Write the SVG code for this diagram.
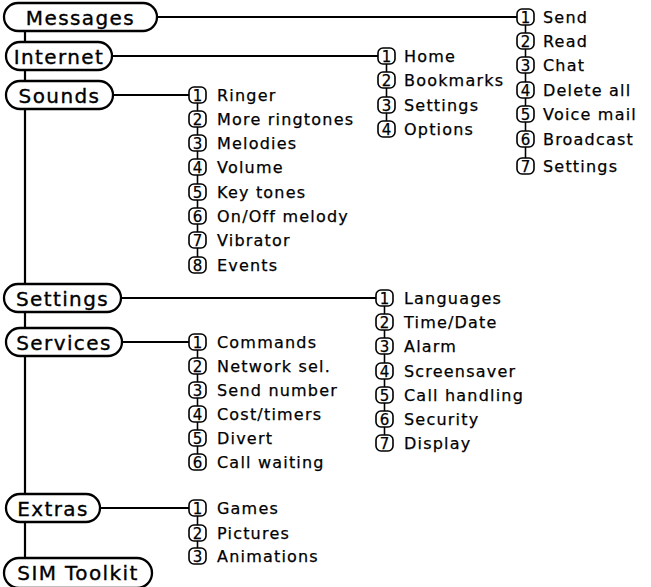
<svg xmlns="http://www.w3.org/2000/svg" width="651" height="587" viewBox="0 0 651 587">
<style>
.main rect{fill:#fff;stroke:#000;stroke-width:2.3}
.main text{font-family:"DejaVu Sans",sans-serif;font-size:20px;letter-spacing:1.4px;text-anchor:middle;fill:#000;stroke:#000;stroke-width:0.35}
.num rect{fill:#fff;stroke:#000;stroke-width:1.6}
.num text{font-family:"DejaVu Sans",sans-serif;font-size:15px;text-anchor:middle;fill:#000;stroke:#000;stroke-width:0.25}
.num .lbl{font-size:16px;letter-spacing:1.2px;text-anchor:start}
.conn line{stroke:#000;stroke-width:2.2}
.conn .s{stroke-width:1.6}
</style>
<rect width="651" height="587" fill="#fff"/>
<g class="conn" id="connectors">
<line x1="25" y1="31" x2="25" y2="560"/>
<line x1="157" y1="17" x2="517" y2="17"/>
<line x1="112" y1="56" x2="378" y2="56"/>
<line x1="113" y1="95" x2="189" y2="95"/>
<line x1="121" y1="298" x2="376" y2="298"/>
<line x1="122" y1="342" x2="189" y2="342"/>
<line x1="100" y1="508" x2="189" y2="508"/>
<line class="s" x1="525.5" y1="25" x2="525.5" y2="33"/>
<line class="s" x1="525.5" y1="49" x2="525.5" y2="57"/>
<line class="s" x1="525.5" y1="73" x2="525.5" y2="82"/>
<line class="s" x1="525.5" y1="98" x2="525.5" y2="106"/>
<line class="s" x1="525.5" y1="122" x2="525.5" y2="131"/>
<line class="s" x1="525.5" y1="147" x2="525.5" y2="158"/>
<line class="s" x1="386.5" y1="64" x2="386.5" y2="72"/>
<line class="s" x1="386.5" y1="88" x2="386.5" y2="97"/>
<line class="s" x1="386.5" y1="113" x2="386.5" y2="121"/>
<line class="s" x1="197.5" y1="103" x2="197.5" y2="111"/>
<line class="s" x1="197.5" y1="127" x2="197.5" y2="135"/>
<line class="s" x1="197.5" y1="151" x2="197.5" y2="159"/>
<line class="s" x1="197.5" y1="175" x2="197.5" y2="184"/>
<line class="s" x1="197.5" y1="200" x2="197.5" y2="208"/>
<line class="s" x1="197.5" y1="224" x2="197.5" y2="232"/>
<line class="s" x1="197.5" y1="248" x2="197.5" y2="257"/>
<line class="s" x1="384.5" y1="306" x2="384.5" y2="314"/>
<line class="s" x1="384.5" y1="330" x2="384.5" y2="338"/>
<line class="s" x1="384.5" y1="354" x2="384.5" y2="363"/>
<line class="s" x1="384.5" y1="379" x2="384.5" y2="387"/>
<line class="s" x1="384.5" y1="403" x2="384.5" y2="411"/>
<line class="s" x1="384.5" y1="427" x2="384.5" y2="435"/>
<line class="s" x1="197.5" y1="350" x2="197.5" y2="358"/>
<line class="s" x1="197.5" y1="374" x2="197.5" y2="382"/>
<line class="s" x1="197.5" y1="398" x2="197.5" y2="406"/>
<line class="s" x1="197.5" y1="422" x2="197.5" y2="430"/>
<line class="s" x1="197.5" y1="446" x2="197.5" y2="454"/>
<line class="s" x1="197.5" y1="516" x2="197.5" y2="525"/>
<line class="s" x1="197.5" y1="541" x2="197.5" y2="548"/>
</g>
<g class="main" id="messages"><rect x="4" y="3" width="153" height="28" rx="14"/><text x="80.5" y="24.5">Messages</text></g>
<g class="main" id="internet"><rect x="6" y="42" width="106" height="28" rx="14"/><text x="59" y="63.5">Internet</text></g>
<g class="main" id="sounds"><rect x="6" y="81" width="107" height="28" rx="14"/><text x="59.5" y="102.5">Sounds</text></g>
<g class="main" id="settings"><rect x="4" y="284" width="117" height="28" rx="14"/><text x="62.5" y="305.5">Settings</text></g>
<g class="main" id="services"><rect x="6" y="328" width="116" height="28" rx="14"/><text x="64" y="349.5">Services</text></g>
<g class="main" id="extras"><rect x="6" y="494" width="94" height="28" rx="14"/><text x="53" y="515.5">Extras</text></g>
<g class="main" id="sim-toolkit"><rect x="4" y="558" width="148" height="30" rx="15"/><text x="78" y="580">SIM Toolkit</text></g>

<g id="messages-items">
<g class="num" id="msg-1"><rect x="517" y="9" width="17" height="16" rx="5"/><text x="525.5" y="22.5">1</text><text class="lbl" x="543" y="23">Send</text></g>
<g class="num" id="msg-2"><rect x="517" y="33" width="17" height="16" rx="5"/><text x="525.5" y="46.5">2</text><text class="lbl" x="543" y="47">Read</text></g>
<g class="num" id="msg-3"><rect x="517" y="57" width="17" height="16" rx="5"/><text x="525.5" y="70.5">3</text><text class="lbl" x="543" y="71">Chat</text></g>
<g class="num" id="msg-4"><rect x="517" y="82" width="17" height="16" rx="5"/><text x="525.5" y="95.5">4</text><text class="lbl" x="543" y="96">Delete all</text></g>
<g class="num" id="msg-5"><rect x="517" y="106" width="17" height="16" rx="5"/><text x="525.5" y="119.5">5</text><text class="lbl" x="543" y="120">Voice mail</text></g>
<g class="num" id="msg-6"><rect x="517" y="131" width="17" height="16" rx="5"/><text x="525.5" y="144.5">6</text><text class="lbl" x="543" y="145">Broadcast</text></g>
<g class="num" id="msg-7"><rect x="517" y="158" width="17" height="16" rx="5"/><text x="525.5" y="171.5">7</text><text class="lbl" x="543" y="172">Settings</text></g>
</g>
<g id="internet-items">
<g class="num" id="int-1"><rect x="378" y="48" width="17" height="16" rx="5"/><text x="386.5" y="61.5">1</text><text class="lbl" x="404" y="62">Home</text></g>
<g class="num" id="int-2"><rect x="378" y="72" width="17" height="16" rx="5"/><text x="386.5" y="85.5">2</text><text class="lbl" x="404" y="86">Bookmarks</text></g>
<g class="num" id="int-3"><rect x="378" y="97" width="17" height="16" rx="5"/><text x="386.5" y="110.5">3</text><text class="lbl" x="404" y="111">Settings</text></g>
<g class="num" id="int-4"><rect x="378" y="121" width="17" height="16" rx="5"/><text x="386.5" y="134.5">4</text><text class="lbl" x="404" y="135">Options</text></g>
</g>
<g id="sounds-items">
<g class="num" id="snd-1"><rect x="189" y="87" width="17" height="16" rx="5"/><text x="197.5" y="100.5">1</text><text class="lbl" x="217" y="101">Ringer</text></g>
<g class="num" id="snd-2"><rect x="189" y="111" width="17" height="16" rx="5"/><text x="197.5" y="124.5">2</text><text class="lbl" x="217" y="125">More ringtones</text></g>
<g class="num" id="snd-3"><rect x="189" y="135" width="17" height="16" rx="5"/><text x="197.5" y="148.5">3</text><text class="lbl" x="217" y="149">Melodies</text></g>
<g class="num" id="snd-4"><rect x="189" y="159" width="17" height="16" rx="5"/><text x="197.5" y="172.5">4</text><text class="lbl" x="217" y="173">Volume</text></g>
<g class="num" id="snd-5"><rect x="189" y="184" width="17" height="16" rx="5"/><text x="197.5" y="197.5">5</text><text class="lbl" x="217" y="198">Key tones</text></g>
<g class="num" id="snd-6"><rect x="189" y="208" width="17" height="16" rx="5"/><text x="197.5" y="221.5">6</text><text class="lbl" x="217" y="222">On/Off melody</text></g>
<g class="num" id="snd-7"><rect x="189" y="232" width="17" height="16" rx="5"/><text x="197.5" y="245.5">7</text><text class="lbl" x="217" y="246">Vibrator</text></g>
<g class="num" id="snd-8"><rect x="189" y="257" width="17" height="16" rx="5"/><text x="197.5" y="270.5">8</text><text class="lbl" x="217" y="271">Events</text></g>
</g>
<g id="settings-items">
<g class="num" id="set-1"><rect x="376" y="290" width="17" height="16" rx="5"/><text x="384.5" y="303.5">1</text><text class="lbl" x="404" y="304">Languages</text></g>
<g class="num" id="set-2"><rect x="376" y="314" width="17" height="16" rx="5"/><text x="384.5" y="327.5">2</text><text class="lbl" x="404" y="328">Time/Date</text></g>
<g class="num" id="set-3"><rect x="376" y="338" width="17" height="16" rx="5"/><text x="384.5" y="351.5">3</text><text class="lbl" x="404" y="352">Alarm</text></g>
<g class="num" id="set-4"><rect x="376" y="363" width="17" height="16" rx="5"/><text x="384.5" y="376.5">4</text><text class="lbl" x="404" y="377">Screensaver</text></g>
<g class="num" id="set-5"><rect x="376" y="387" width="17" height="16" rx="5"/><text x="384.5" y="400.5">5</text><text class="lbl" x="404" y="401">Call handling</text></g>
<g class="num" id="set-6"><rect x="376" y="411" width="17" height="16" rx="5"/><text x="384.5" y="424.5">6</text><text class="lbl" x="404" y="425">Security</text></g>
<g class="num" id="set-7"><rect x="376" y="435" width="17" height="16" rx="5"/><text x="384.5" y="448.5">7</text><text class="lbl" x="404" y="449">Display</text></g>
</g>
<g id="services-items">
<g class="num" id="srv-1"><rect x="189" y="334" width="17" height="16" rx="5"/><text x="197.5" y="347.5">1</text><text class="lbl" x="217" y="348">Commands</text></g>
<g class="num" id="srv-2"><rect x="189" y="358" width="17" height="16" rx="5"/><text x="197.5" y="371.5">2</text><text class="lbl" x="217" y="372">Network sel.</text></g>
<g class="num" id="srv-3"><rect x="189" y="382" width="17" height="16" rx="5"/><text x="197.5" y="395.5">3</text><text class="lbl" x="217" y="396">Send number</text></g>
<g class="num" id="srv-4"><rect x="189" y="406" width="17" height="16" rx="5"/><text x="197.5" y="419.5">4</text><text class="lbl" x="217" y="420">Cost/timers</text></g>
<g class="num" id="srv-5"><rect x="189" y="430" width="17" height="16" rx="5"/><text x="197.5" y="443.5">5</text><text class="lbl" x="217" y="444">Divert</text></g>
<g class="num" id="srv-6"><rect x="189" y="454" width="17" height="16" rx="5"/><text x="197.5" y="467.5">6</text><text class="lbl" x="217" y="468">Call waiting</text></g>
</g>
<g id="extras-items">
<g class="num" id="ext-1"><rect x="189" y="500" width="17" height="16" rx="5"/><text x="197.5" y="513.5">1</text><text class="lbl" x="217" y="514">Games</text></g>
<g class="num" id="ext-2"><rect x="189" y="525" width="17" height="16" rx="5"/><text x="197.5" y="538.5">2</text><text class="lbl" x="217" y="539">Pictures</text></g>
<g class="num" id="ext-3"><rect x="189" y="548" width="17" height="16" rx="5"/><text x="197.5" y="561.5">3</text><text class="lbl" x="217" y="562">Animations</text></g>
</g>
</svg>
